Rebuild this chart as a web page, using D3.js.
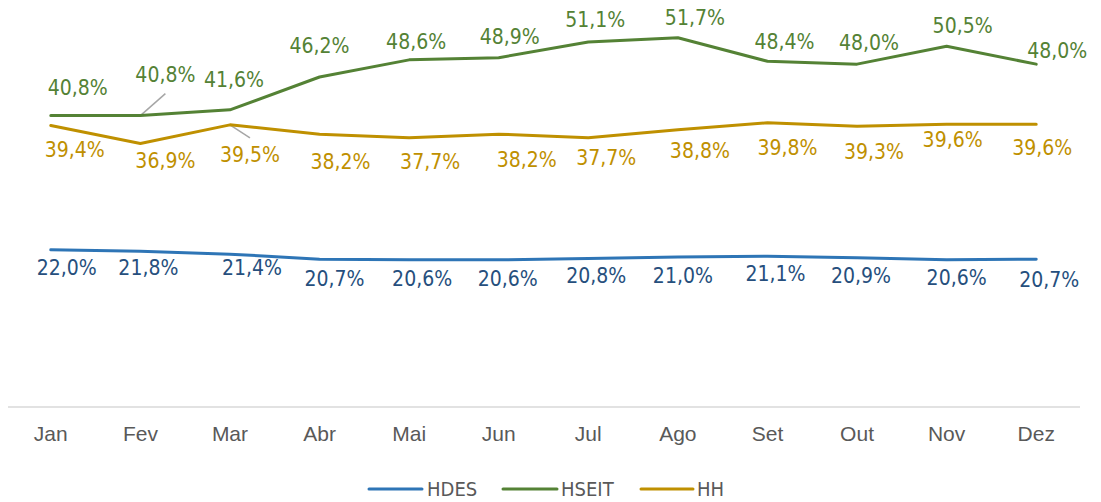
<!DOCTYPE html>
<html><head><meta charset="utf-8">
<script src="https://cdn.jsdelivr.net/npm/d3@7/dist/d3.min.js"></script>
<style>
html,body{margin:0;padding:0;background:#fff;}
svg{display:block;font-family:"DejaVu Sans Condensed","DejaVu Sans",sans-serif;font-stretch:condensed;}
</style></head>
<body>
<svg id="chart" width="1101" height="502"></svg>
<script>
const months = ["Jan","Fev","Mar","Abr","Mai","Jun","Jul","Ago","Set","Out","Nov","Dez"];
const seriesNames = ["HDES","HSEIT","HH"];
const hdes  = [22.0,21.8,21.4,20.7,20.6,20.6,20.8,21.0,21.1,20.9,20.6,20.7];
const hseit = [40.8,40.8,41.6,46.2,48.6,48.9,51.1,51.7,48.4,48.0,50.5,48.0];
const hh    = [39.4,36.9,39.5,38.2,37.7,38.2,37.7,38.8,39.8,39.3,39.6,39.6];

// label placement offsets (px from point), layout only
const offHdes  = [[16,18],[8,17],[22,14],[15,20],[13,19],[9,19],[8,18],[5,19],[8,18],[4,18],[10,18],[13,21]];
const offHseit = [[27,-28],[25,-41],[4,-30],[0,-31],[7,-18],[11,-21],[7,-22],[17,-20],[17,-19],[12,-21],[16,-20],[21,-13]];
const offHh    = [[24,24],[25,18],[20,30],[21,28],[21,24],[28,26],[18,20],[22,21],[20,25],[17,26],[6,16],[6,24]];

const colors = {HDES:"#2E75B6", HSEIT:"#548235", HH:"#BF9000"};
const labelColors = {HDES:"#264f7d", HSEIT:"#548235", HH:"#BF9000"};

const svg = d3.select("#chart");
const x = d3.scaleBand().domain(months).range([6,1081]);
const y = d3.scaleLinear().domain([0,56]).range([407,7]);
const cx = m => x(m) + x.bandwidth()/2;

// axis
const xAxis = d3.axisBottom(x).tickSize(0).tickPadding(19);
const gx = svg.append("g").attr("transform","translate(0,407)").call(xAxis);
gx.select(".domain").attr("stroke","#d9d9d9").attr("stroke-width",1.5).attr("d","M8,0H1080");
gx.selectAll("text").attr("font-size",21).attr("fill","#595959").attr("font-family","inherit");

const series = [
  {name:"HDES", values:hdes, off:offHdes},
  {name:"HSEIT", values:hseit, off:offHseit},
  {name:"HH", values:hh, off:offHh}
];

const line = d3.line().x((d,i)=>cx(months[i])).y(d=>y(d));

// leader lines
const leaders = [
  {s:"HSEIT", i:1, dx:25, dy:-22},
  {s:"HH", i:2, dx:20, dy:13}
];
leaders.forEach(l=>{
  const s = series.find(z=>z.name===l.s);
  const px = cx(months[l.i]), py = y(s.values[l.i]);
  svg.append("line").attr("x1",px).attr("y1",py).attr("x2",px+l.dx).attr("y2",py+l.dy)
    .attr("stroke","#a6a6a6").attr("stroke-width",1.5);
});

series.forEach(s=>{
  svg.append("path").datum(s.values).attr("d",line)
    .attr("fill","none").attr("stroke",colors[s.name]).attr("stroke-width",3)
    .attr("stroke-linejoin","round").attr("stroke-linecap","round");
});

const fmt = v => v.toFixed(1).replace(".",",") + "%";
series.forEach(s=>{
  svg.append("g").selectAll("text").data(s.values).join("text")
    .attr("x",(d,i)=>cx(months[i]) + s.off[i][0])
    .attr("y",(d,i)=>y(d) + s.off[i][1])
    .attr("text-anchor","middle").attr("dominant-baseline","central")
    .attr("font-size",21).attr("fill",labelColors[s.name])
    .text(fmt);
});

// legend
const legendItems = [
  {name:"HDES", x1:369, x2:422, tx:427},
  {name:"HSEIT", x1:503, x2:557, tx:561},
  {name:"HH", x1:641, x2:693, tx:697}
];
const lg = svg.append("g");
legendItems.forEach(it=>{
  lg.append("line").attr("x1",it.x1).attr("x2",it.x2).attr("y1",489).attr("y2",489)
    .attr("stroke",colors[it.name]).attr("stroke-width",3).attr("stroke-linecap","round");
  lg.append("text").attr("x",it.tx).attr("y",489).attr("dominant-baseline","central")
    .attr("font-size",20).attr("fill","#595959").text(it.name);
});
</script>
</body></html>
